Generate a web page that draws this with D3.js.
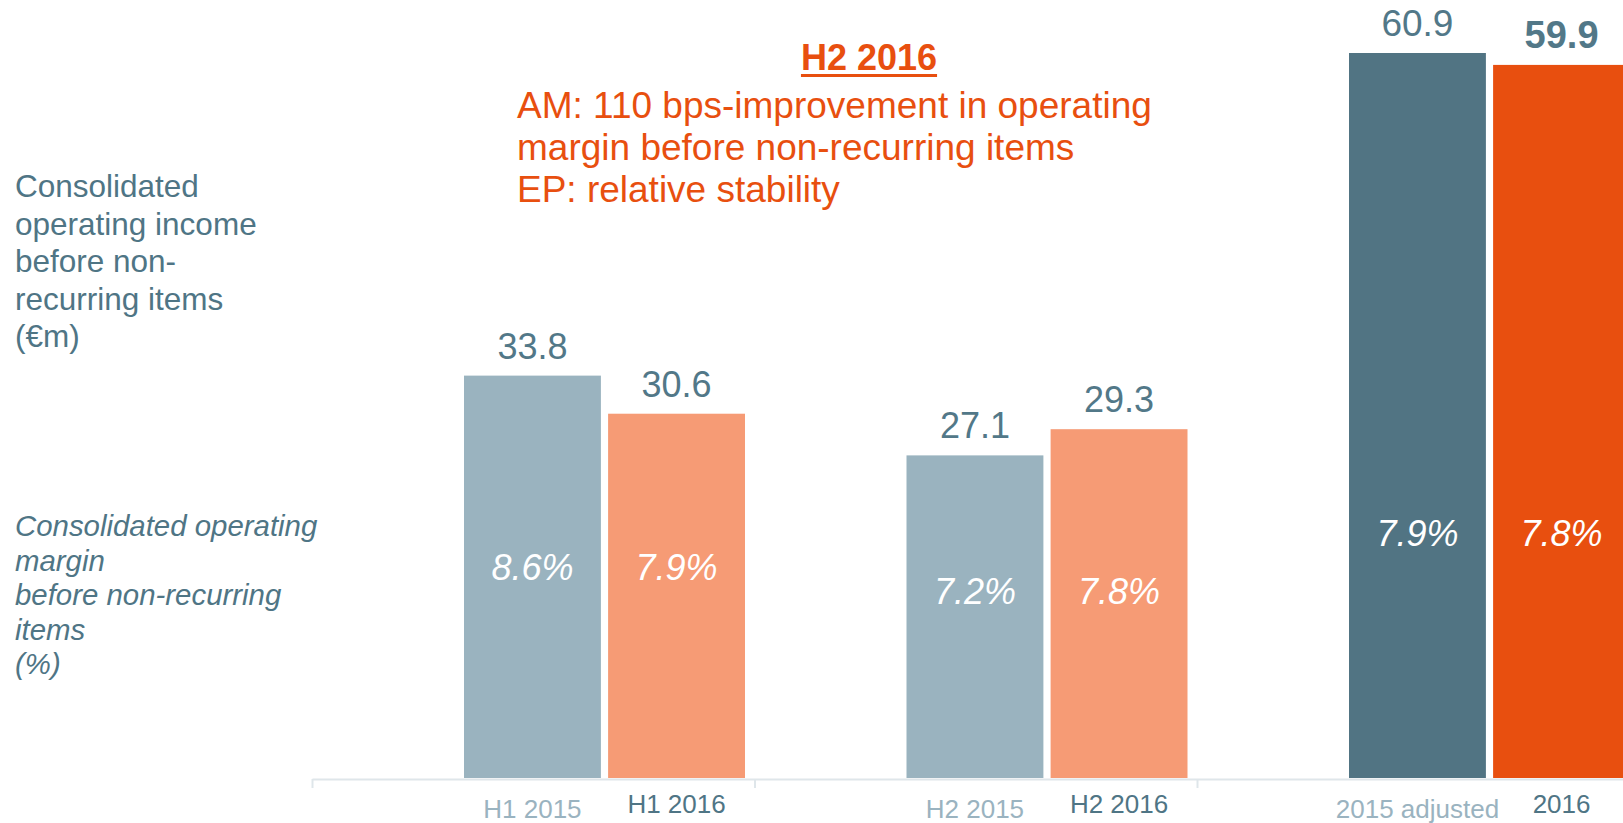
<!DOCTYPE html>
<html>
<head>
    <meta charset="utf-8">
    <title>Consolidated operating income</title>
    <script src="https://cdn.jsdelivr.net/npm/d3@7"></script>
    <style>
        body { margin: 0; background: #fff; }
        text { font-family: "Liberation Sans", Arial, sans-serif; }
    </style>
</head>
<body>
<div id="container"></div>
<script>
    // data
    const groups = ["H1", "H2", "FY"];
    const priorLabels = ["H1 2015", "H2 2015", "2015 adjusted"];
    const currentLabels = ["H1 2016", "H2 2016", "2016"];
    const priorIncome = [33.8, 27.1, 60.9];      // €m
    const currentIncome = [30.6, 29.3, 59.9];    // €m
    const priorMargin = [8.6, 7.2, 7.9];         // %
    const currentMargin = [7.9, 7.8, 7.8];       // %

    const width = 1623, height = 823;
    const baseY = 778;

    const priorFill = ["#9ab3bf", "#9ab3bf", "#517483"];
    const currentFill = ["#f69b75", "#f69b75", "#e84f0f"];
    const textBlue = "#4f7585";
    const lightText = "#9ab3c0";
    const orange = "#e84f0f";

    const svg = d3.select("#container").append("svg")
        .attr("width", width)
        .attr("height", height);

    const x0 = d3.scaleBand()
        .domain(groups)
        .range([312, 312 + 3 * 442.5]);

    const x1 = d3.scaleBand()
        .domain(["prior", "current"])
        .range([152, 433])
        .paddingInner(0.05);

    const y = d3.scaleLinear()
        .domain([0, d3.max(priorIncome.concat(currentIncome))])
        .range([baseY, 53]);

    const rows = groups.map(function (g, i) {
        return [
            { g: g, i: i, s: "prior", v: priorIncome[i], m: priorMargin[i], label: priorLabels[i], fill: priorFill[i] },
            { g: g, i: i, s: "current", v: currentIncome[i], m: currentMargin[i], label: currentLabels[i], fill: currentFill[i] }
        ];
    }).flat();

    const cx = d => x0(d.g) + x1(d.s) + x1.bandwidth() / 2;

    // axis line with ticks between the groups
    const edge = d3.scaleLinear().domain([0, 3]).range(x0.range());
    svg.append("g")
        .attr("transform", "translate(0," + (baseY + 1) + ")")
        .call(d3.axisBottom(edge).ticks(3).tickFormat("").tickSize(9).tickSizeOuter(0))
        .call(g => g.select(".domain").attr("stroke", "#dfe6ea").attr("stroke-width", 2))
        .call(g => g.selectAll(".tick line").attr("stroke", "#dfe6ea").attr("stroke-width", 2));

    // bars
    svg.selectAll("rect.bar")
        .data(rows)
        .enter()
        .append("rect")
        .attr("class", "bar")
        .attr("x", d => x0(d.g) + x1(d.s))
        .attr("width", x1.bandwidth())
        .attr("y", d => y(d.v))
        .attr("height", d => baseY - y(d.v))
        .attr("fill", d => d.fill);

    // values above bars
    svg.selectAll("text.val")
        .data(rows)
        .enter()
        .append("text")
        .attr("class", "val")
        .attr("x", cx)
        .attr("y", d => y(d.v) - 17)
        .attr("text-anchor", "middle")
        .attr("fill", "#527888")
        .style("font-size", d => d.i === 2 ? (d.s === "current" ? "38px" : "37px") : "36px")
        .style("font-weight", d => d.i === 2 && d.s === "current" ? "bold" : "normal")
        .text(d => d3.format(".1f")(d.v));

    // margins inside bars, placed at a common height per group
    const groupMin = groups.map((g, i) => Math.min(priorIncome[i], currentIncome[i]));
    svg.selectAll("text.pct")
        .data(rows)
        .enter()
        .append("text")
        .attr("class", "pct")
        .attr("x", cx)
        .attr("y", d => y(Math.min(groupMin[d.i], 35.5) * 0.577) + 12)
        .attr("text-anchor", "middle")
        .attr("fill", "#ffffff")
        .style("font-size", "36px")
        .style("font-style", "italic")
        .text(d => d3.format(".1f")(d.m) + "%");

    // category labels
    svg.selectAll("text.cat")
        .data(rows)
        .enter()
        .append("text")
        .attr("class", "cat")
        .attr("x", cx)
        .attr("y", d => d.s === "prior" ? 818 : 813)
        .attr("text-anchor", "middle")
        .attr("fill", d => d.s === "prior" ? lightText : textBlue)
        .style("font-size", "26px")
        .text(d => d.label);

    // left-hand captions
    const incomeNote = ["Consolidated", "operating income", "before non-", "recurring items", "(€m)"];
    svg.append("text")
        .attr("x", 15)
        .attr("y", 197)
        .attr("fill", textBlue)
        .style("font-size", "31.5px")
        .selectAll("tspan")
        .data(incomeNote)
        .enter()
        .append("tspan")
        .attr("x", 15)
        .attr("dy", (d, i) => i === 0 ? 0 : 37.5)
        .text(d => d);

    const marginNote = ["Consolidated operating", "margin", "before non-recurring", "items", "(%)"];
    svg.append("text")
        .attr("x", 15)
        .attr("y", 536)
        .attr("fill", textBlue)
        .style("font-size", "29.4px")
        .style("font-style", "italic")
        .selectAll("tspan")
        .data(marginNote)
        .enter()
        .append("tspan")
        .attr("x", 15)
        .attr("dy", (d, i) => i === 0 ? 0 : 34.5)
        .text(d => d);

    // H2 2016 comment
    const head = svg.append("text")
        .attr("x", 869)
        .attr("y", 70)
        .attr("text-anchor", "middle")
        .attr("fill", orange)
        .style("font-size", "36px")
        .style("font-weight", "bold")
        .text("H2 2016");
    const hb = head.node().getBBox();
    svg.append("rect")
        .attr("x", hb.x)
        .attr("y", 74)
        .attr("width", hb.width)
        .attr("height", 3)
        .attr("fill", orange);

    const comment = ["AM: 110 bps-improvement in operating", "margin before non-recurring items", "EP: relative stability"];
    svg.append("text")
        .attr("y", 118)
        .attr("fill", orange)
        .style("font-size", "37px")
        .selectAll("tspan")
        .data(comment)
        .enter()
        .append("tspan")
        .attr("x", 517)
        .attr("dy", (d, i) => i === 0 ? 0 : 42)
        .text(d => d);
</script>
</body>
</html>
